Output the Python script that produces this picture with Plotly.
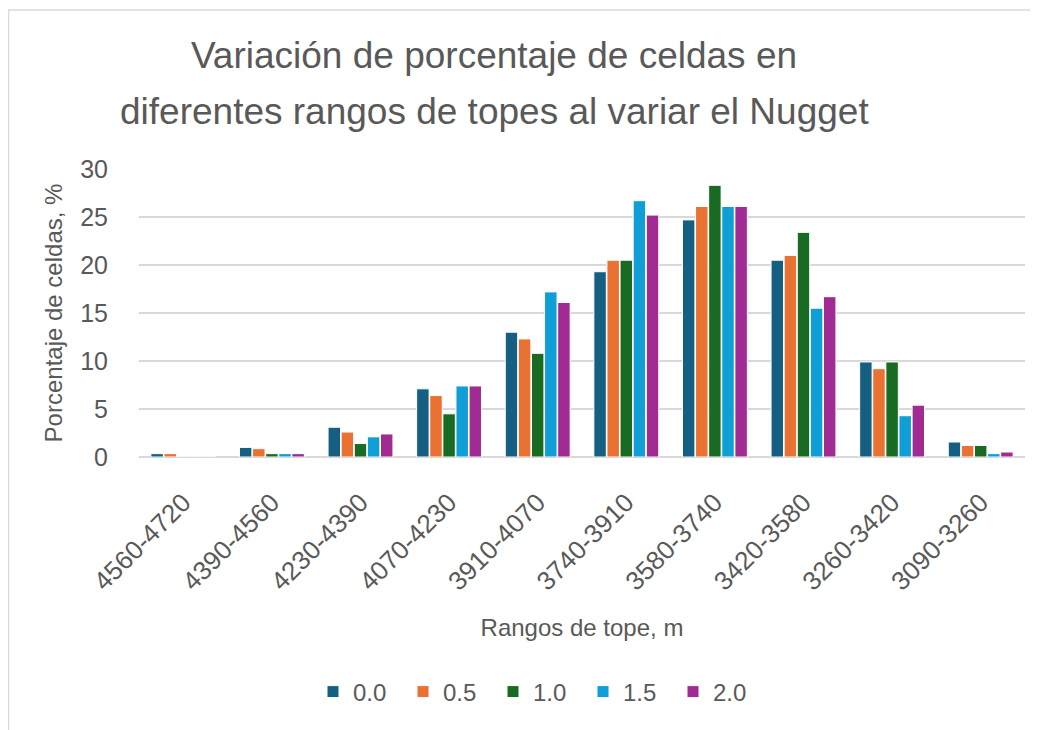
import plotly.graph_objects as go

categories = ["4560-4720", "4390-4560", "4230-4390", "4070-4230", "3910-4070",
              "3740-3910", "3580-3740", "3420-3580", "3260-3420", "3090-3260"]
series_names = ["0.0", "0.5", "1.0", "1.5", "2.0"]
s00 = [0.35, 1.0, 3.1, 7.1, 13.0, 19.3, 24.7, 20.5, 9.9, 1.56]
s05 = [0.35, 0.87, 2.6, 6.4, 12.3, 20.5, 26.1, 21.0, 9.2, 1.2]
s10 = [0.0, 0.35, 1.4, 4.5, 10.8, 20.5, 28.3, 23.4, 9.9, 1.2]
s15 = [0.0, 0.35, 2.1, 7.4, 17.2, 26.7, 26.1, 15.5, 4.3, 0.35]
s20 = [0.0, 0.35, 2.4, 7.4, 16.1, 25.2, 26.1, 16.7, 5.4, 0.52]
colors = ["#156082", "#E97132", "#196B24", "#0F9ED5", "#A02B93"]
title_line1 = "Variación de porcentaje de celdas en"
title_line2 = "diferentes rangos de topes al variar el Nugget"

FONT = "Liberation Sans Narrow, Arial Narrow, Liberation Sans, Arial, sans-serif"
TXT = "#595959"

# page body has an 8px margin; figure sized so the view matches 1038x730
W, H = 1030, 722
L, T, R, B = 131, 161, 13, 273
PW, PH = W - L - R, H - T - B


def px_x(sx):  # screen x -> paper x
    return (sx - 8 - L) / PW


def px_y(sy):  # screen y -> paper y
    return (H - B - (sy - 8)) / PH


fig = go.Figure()
for name, vals, c in zip(series_names, [s00, s05, s10, s15, s20], colors):
    fig.add_trace(go.Bar(x=categories, y=vals, name=name,
                         marker=dict(color=c, line=dict(color="white", width=1))))

fig.update_layout(
    width=W, height=H,
    paper_bgcolor="white", plot_bgcolor="white",
    margin=dict(l=L, r=R, t=T, b=B, autoexpand=False),
    barmode="group", bargap=0.26, bargroupgap=0.05,
    font=dict(family=FONT, color=TXT, size=20),
    title=dict(text=title_line1,
               x=(494 - 8) / W, xanchor="center", y=1 - (55 - 8) / H, yanchor="middle",
               font=dict(family=FONT, size=37, color=TXT)),
    annotations=[dict(text=title_line2, xref="paper", yref="paper",
                      x=px_x(494), y=px_y(112), xanchor="center", yanchor="middle",
                      showarrow=False, font=dict(family=FONT, size=37, color=TXT))],
    xaxis=dict(tickangle=-45, showgrid=False, showline=False, ticks="",
               ticklabelstandoff=24,
               tickfont=dict(family=FONT, size=26, color=TXT),
               title=dict(text="Rangos de tope, m", font=dict(family=FONT, size=24, color=TXT), standoff=23)),
    yaxis=dict(range=[0, 30], dtick=5, gridcolor="#d9d9d9", gridwidth=1.5,
               zeroline=True, zerolinecolor="#d9d9d9", zerolinewidth=1.5,
               showline=False, ticks="", ticklabelstandoff=30,
               tickfont=dict(family=FONT, size=25, color=TXT),
               title=dict(text="Porcentaje de celdas, %", font=dict(family=FONT, size=24, color=TXT), standoff=10)),
    legend=dict(orientation="h", x=px_x(538), xanchor="center", y=px_y(692), yanchor="middle",
                font=dict(family=FONT, size=24, color=TXT), entrywidth=45, entrywidthmode="pixels",
                traceorder="normal"),
    shapes=[dict(type="rect", xref="paper", yref="paper",
                 x0=-L / PW + 0.5 / PW, x1=1.05, y0=-1.2, y1=px_y(10),
                 line=dict(color="#d9d9d9", width=1.5), fillcolor="rgba(0,0,0,0)", layer="below")],
)

fig.write_html("out.html")
